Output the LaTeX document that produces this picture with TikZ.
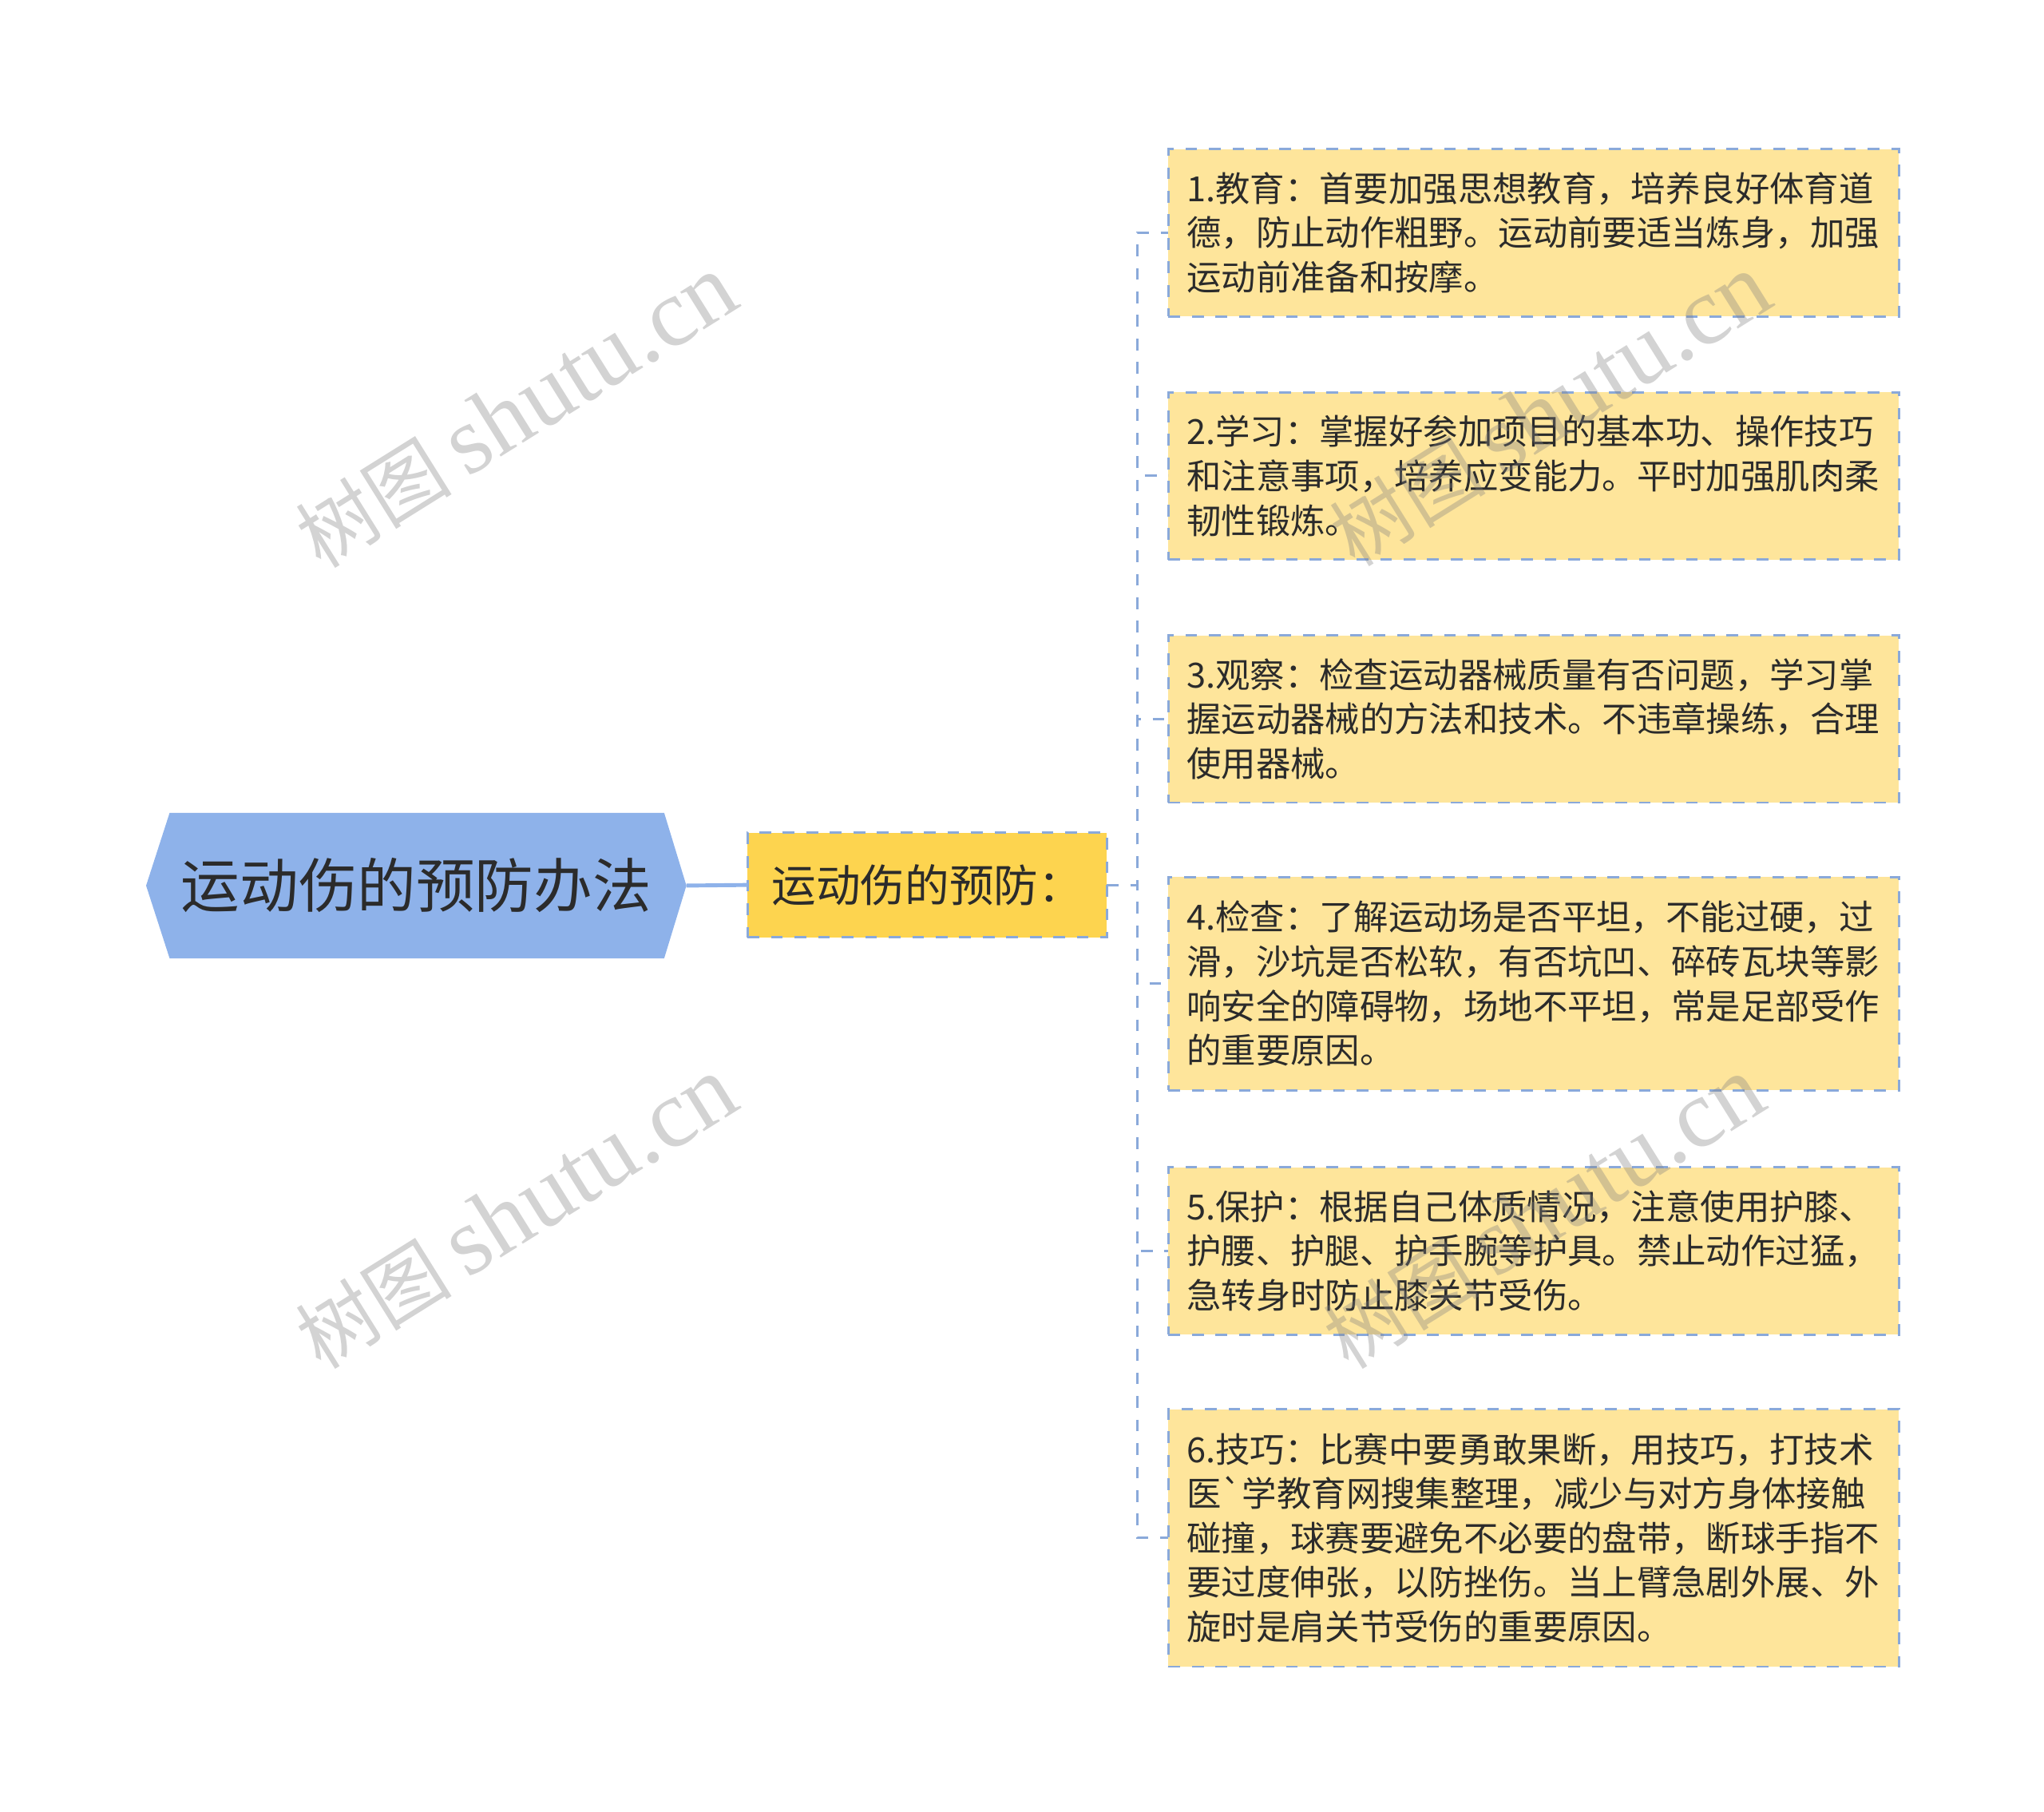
\documentclass[tikz,border=0pt]{standalone}
\usepackage{fontspec}
\newfontfamily\cjk{Noto Sans CJK SC}
\newfontfamily\wmlat{Liberation Serif}
\definecolor{rootblue}{HTML}{8EB2EA}
\definecolor{hubgold}{HTML}{FDD44F}
\definecolor{leafyellow}{HTML}{FEE59B}
\definecolor{dashblue}{HTML}{8AA9DA}
\definecolor{txt}{HTML}{2B2B2B}
\definecolor{wmgray}{HTML}{808080}
\pgfdeclarelayer{background}
\pgfsetlayers{background,main}
\begin{document}
\begin{tikzpicture}[x=1pt,y=-1pt,
  rootnode/.style={minimum width=413pt,minimum height=111pt,inner sep=0pt,
    font=\cjk\fontsize{45pt}{54pt}\selectfont,text=txt},
  hubnode/.style={draw=dashblue,fill=hubgold,line width=1.8pt,outer sep=0pt,
    dash pattern=on 9pt off 9pt,minimum width=275pt,minimum height=80pt,
    inner sep=0pt,font=\cjk\fontsize{34pt}{40pt}\selectfont,text=txt},
  leafnode/.style={draw=dashblue,fill=leafyellow,line width=1.8pt,outer sep=0pt,
    dash pattern=on 9pt off 9pt,text width=531pt,inner xsep=14pt,inner ysep=0pt,
    align=left,anchor=north west,
    font=\cjk\fontsize{26.5pt}{34pt}\selectfont,text=txt},
  conn/.style={draw=dashblue,line width=1.8pt,dash pattern=on 9pt off 9pt},
  rootline/.style={draw=rootblue,line width=3pt},
  wm/.style={text=wmgray,opacity=0.35,rotate=32,inner sep=0pt}
]
\useasboundingbox (0,0) rectangle (1564,1386);

% root
\node[rootnode] (root) at (318.5,677.5) {运动伤的预防办法};
\begin{pgfonlayer}{background}
\fill[rootblue] (root.west) -- ([xshift=18pt]root.north west) -- ([xshift=-17pt]root.north east)
  -- (root.east) -- ([xshift=-17pt]root.south east) -- ([xshift=18pt]root.south west) -- cycle;
\end{pgfonlayer}

% hub
\node[hubnode] (hub) at (709.5,677) {运动伤的预防：};
\draw[rootline] (root.east) -- (hub.west);

% leaves
\node[leafnode,minimum height=128pt] (b1) at (894,114) {1.教育：首要加强思想教育，培养良好体育道\\德，防止动作粗野。运动前要适当炼身，加强\\运动前准备和按摩。};
\node[leafnode,minimum height=128pt] (b2) at (894,300) {2.学习：掌握好参加项目的基本功、操作技巧\\和注意事项，培养应变能力。平时加强肌肉柔\\韧性锻炼。};
\node[leafnode,minimum height=128pt] (b3) at (894,486) {3.观察：检查运动器械质量有否问题，学习掌\\握运动器械的方法和技术。不违章操练，合理\\使用器械。};
\node[leafnode,minimum height=163pt] (b4) at (894,671) {4.检查：了解运动场是否平坦，不能过硬，过\\滑，沙坑是否松软，有否坑凹、碎砖瓦块等影\\响安全的障碍物，场地不平坦，常是足部受作\\的重要原因。};
\node[leafnode,minimum height=128pt] (b5) at (894,893) {5.保护：根据自己体质情况，注意使用护膝、\\护腰、护腿、护手腕等护具。禁止动作过猛，\\急转身时防止膝关节受伤。};
\node[leafnode,minimum height=197pt] (b6) at (894,1078) {6.技巧：比赛中要勇敢果断，用技巧，打技术\\医`学教育网搜集整理，减少与对方身体接触\\碰撞，球赛要避免不必要的盘带，断球手指不\\要过度伸张，以防挫伤。当上臂急剧外展、外\\旋时是肩关节受伤的重要原因。};

% connectors
\coordinate (junc) at (870,677);
\foreach \b in {b1,b2,b3,b4,b5,b6}{
  \draw[conn] (hub.east) -- (junc) |- (\b.west);
}

% watermarks
\newcommand\wmtext{{\cjk\fontsize{60pt}{64pt}\selectfont 树图}\hspace{12pt}{\wmlat\fontsize{74pt}{76pt}\selectfont shutu.cn}}
\node[wm] (wm1) at (395,315) {\wmtext};
\node[wm] (wm2) at (1186,314) {\wmtext};
\node[wm] (wm3) at (395,928) {\wmtext};
\node[wm] (wm4) at (1181,928) {\wmtext};
\end{tikzpicture}
\end{document}
